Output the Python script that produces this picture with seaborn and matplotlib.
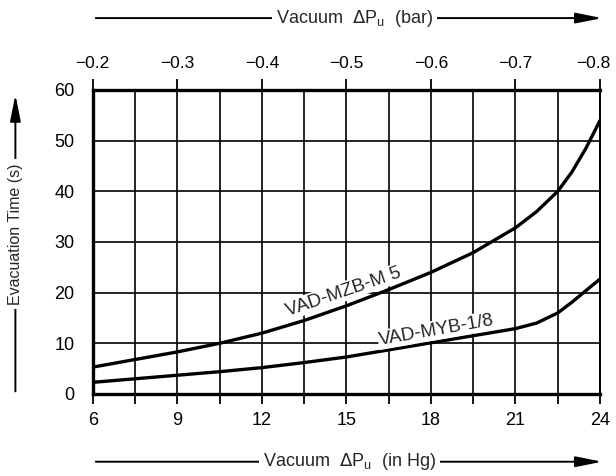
import matplotlib
matplotlib.use("Agg")
import matplotlib.pyplot as plt
import matplotlib.transforms as mtransforms
from matplotlib.patches import FancyArrowPatch
import pandas as pd
import seaborn as sns

# values (x in inHg, y in seconds)
vacuum_inhg = [6, 7.5, 9, 10.5, 12, 13.5, 15, 16.5, 18, 19.5, 21, 21.75, 22.5, 23, 23.5, 24]
time_mzb = [5.3, 6.8, 8.3, 10.0, 12.0, 14.5, 17.4, 20.6, 24.0, 27.9, 32.8, 36.0, 40.0, 43.8, 48.5, 54.0]
time_myb = [2.3, 3.0, 3.7, 4.4, 5.2, 6.2, 7.3, 8.7, 10.1, 11.5, 12.9, 14.0, 16.0, 18.1, 20.4, 22.7]

bottom_ticks = [6, 9, 12, 15, 18, 21, 24]
top_labels = ["\u22120.2", "\u22120.3", "\u22120.4", "\u22120.5", "\u22120.6", "\u22120.7", "\u22120.8"]
y_ticks = [0, 10, 20, 30, 40, 50, 60]

df = pd.DataFrame({
    "vacuum": vacuum_inhg * 2,
    "time": time_mzb + time_myb,
    "model": ["VAD-MZB-M 5"] * len(time_mzb) + ["VAD-MYB-1/8"] * len(time_myb),
})

sns.set_style("white")
plt.rcParams["font.family"] = ["Liberation Sans", "DejaVu Sans"]

fig = plt.figure(figsize=(6.16, 4.76), dpi=100)
ax = fig.add_axes([0.1505, 0.1723, 0.8236, 0.6387])

sns.lineplot(
    data=df,
    x="vacuum",
    y="time",
    hue="model",
    palette=["black", "black"],
    linewidth=2.4,
    legend=False,
    ax=ax
)

ax.set_xlim(6, 24)
ax.set_ylim(0, 60)
ax.set_xticks(bottom_ticks)
ax.set_xticks([v + 1.5 for v in bottom_ticks[:-1]], minor=True)
ax.set_yticks(y_ticks)
ax.set_xlabel("")
ax.set_ylabel("")
ax.grid(True, which="both", color="black", linewidth=1.2)
ax.set_axisbelow(True)

for side in ["top", "bottom", "left"]:
    ax.spines[side].set_linewidth(2.4)
ax.spines["right"].set_linewidth(1.4)
for s in ax.spines.values():
    s.set_color("black")

ax.tick_params(axis="x", which="both", direction="out", length=7, width=1.3,
               labelsize=13, pad=6, colors="black")
ax.tick_params(axis="y", direction="out", length=10, width=1.3,
               labelsize=13, pad=3, colors="black")

top = ax.twiny()
top.set_xlim(ax.get_xlim())
top.set_xticks(bottom_ticks)
top.set_xticklabels(top_labels)
top.tick_params(axis="x", direction="out", length=8, width=1.3,
                labelsize=12.5, pad=6, colors="black")
for s in top.spines.values():
    s.set_visible(False)

# last top label sits a little left of its tick so it stays inside the figure
last = top.get_xticklabels()[-1]
last.set_transform(last.get_transform() + mtransforms.ScaledTranslation(-5 / 72, 0, fig.dpi_scale_trans))

# curve labels
ax.text(14.9, 20.2, "VAD-MZB-M 5", rotation=19, ha="center", va="center",
        fontsize=13.5, bbox=dict(facecolor="white", edgecolor="none", pad=1))
ax.text(18.2, 12.6, "VAD-MYB-1/8", rotation=10, ha="center", va="center",
        fontsize=13.5, bbox=dict(facecolor="white", edgecolor="none", pad=1))


# axis titles sit on long arrows
def fig_arrow(start, end):
    fig.add_artist(FancyArrowPatch(
        start, end,
        transform=fig.transFigure,
        arrowstyle="-|>,head_length=1.6,head_width=0.32",
        mutation_scale=10,
        color="black",
        linewidth=1.4
    ))


fig_arrow((0.151, 0.962), (0.982, 0.962))
fig_arrow((0.151, 0.030), (0.982, 0.030))
fig_arrow((0.025, 0.172), (0.025, 0.807))

fig.text(0.575, 0.962, "Vacuum  $\\Delta$P$_\\mathregular{u}$  (bar)", ha="center", va="center",
         fontsize=13, bbox=dict(facecolor="white", edgecolor="none", pad=3))
fig.text(0.567, 0.030, "Vacuum  $\\Delta$P$_\\mathregular{u}$  (in Hg)", ha="center", va="center",
         fontsize=13, bbox=dict(facecolor="white", edgecolor="none", pad=3))
fig.text(0.025, 0.508, "Evacuation Time (s)", ha="center", va="center", rotation=90,
         fontsize=11.5, bbox=dict(facecolor="white", edgecolor="none", pad=3))

fig.savefig("out.png", dpi=100, facecolor="white")
